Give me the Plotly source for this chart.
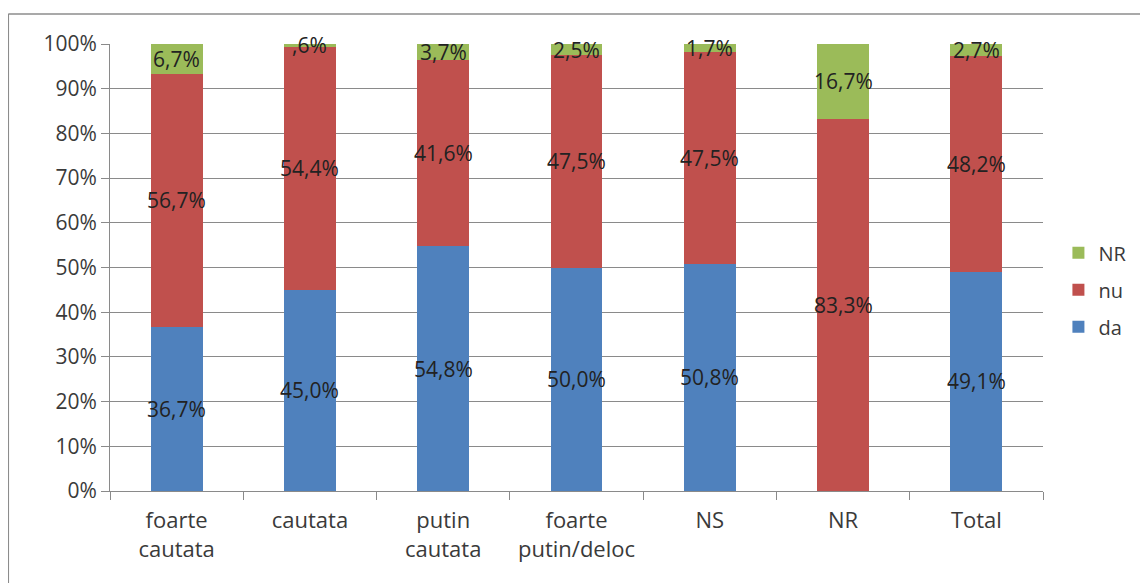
import plotly.graph_objects as go

categories = ["foarte<br>cautata", "cautata", "putin<br>cautata", "foarte<br>putin/deloc", "NS", "NR", "Total"]
da = [36.7, 45.0, 54.8, 50.0, 50.8, 0.0, 49.1]
nu = [56.7, 54.4, 41.6, 47.5, 47.5, 83.3, 48.2]
nr = [6.7, 0.6, 3.7, 2.5, 1.7, 16.7, 2.7]
y_ticks = [0, 10, 20, 30, 40, 50, 60, 70, 80, 90, 100]

# stacking order bottom -> top; legend rank puts NR on top of the legend
series = [("da", da, "#4f81bd", 3), ("nu", nu, "#c0504d", 2), ("NR", nr, "#9bbb59", 1)]

FONT = "Open Sans"
GRID = "#8a8a8a"
TEXT = "#3a3a3a"


def pct_label(v: float) -> str:
    s = f"{v:.1f}".replace(".", ",")
    if s.startswith("0,"):
        s = s[1:]
    return s + "%"


fig = go.Figure()
for name, values, color, rank in series:
    fig.add_trace(
        go.Bar(
            x=categories,
            y=values,
            name=name,
            legendgroup=name,
            legendrank=rank,
            marker={"color": color, "line": {"width": 0}},
            hoverinfo="skip",
        )
    )

# data labels at the middle of each segment
annotations = []
base = [0.0] * len(categories)
for name, values, color, rank in series:
    for i, v in enumerate(values):
        if v > 0:
            annotations.append(
                dict(
                    x=categories[i],
                    y=base[i] + v / 2,
                    text=pct_label(v),
                    showarrow=False,
                    font={"family": FONT, "size": 21, "color": "#222222"},
                    xref="x",
                    yref="y",
                )
            )
        base[i] += v

# the page body adds an 8px offset, margins below account for it
fig.update_layout(
    barmode="stack",
    bargap=0.61,
    width=1148,
    height=583,
    margin={"l": 102, "r": 113, "t": 36, "b": 100, "autoexpand": False},
    paper_bgcolor="#ffffff",
    plot_bgcolor="#ffffff",
    font={"family": FONT, "size": 20, "color": TEXT},
    annotations=annotations,
    legend={
        "traceorder": "grouped",
        "xref": "container",
        "x": 0.915,
        "y": 0.45,
        "xanchor": "left",
        "yanchor": "middle",
        "font": {"family": FONT, "size": 20, "color": TEXT},
        "tracegroupgap": 8,
        "itemwidth": 30,
    },
    shapes=[
        dict(type="line", xref="paper", yref="paper", x0=-0.109, x1=-0.109, y0=-0.3, y1=1.067,
             line={"color": "#8c8c8c", "width": 1.5}),
        dict(type="line", xref="paper", yref="paper", x0=-0.109, x1=1.2, y0=1.067, y1=1.067,
             line={"color": "#8c8c8c", "width": 1.5}),
    ],
)

fig.update_yaxes(
    range=[0, 100],
    tickmode="array",
    tickvals=y_ticks,
    ticktext=[f"{t}%" for t in y_ticks],
    showgrid=True,
    gridcolor=GRID,
    gridwidth=1,
    zeroline=False,
    showline=True,
    linecolor=GRID,
    linewidth=1,
    ticks="outside",
    ticklen=8,
    tickcolor=GRID,
    tickfont={"family": FONT, "size": 21, "color": TEXT},
)
fig.update_xaxes(
    showgrid=False,
    showline=True,
    linecolor=GRID,
    linewidth=1,
    ticks="outside",
    tickson="boundaries",
    ticklen=8,
    tickcolor=GRID,
    ticklabelstandoff=10,
    tickfont={"family": FONT, "size": 22, "color": TEXT},
)

fig.write_html("out.html")
